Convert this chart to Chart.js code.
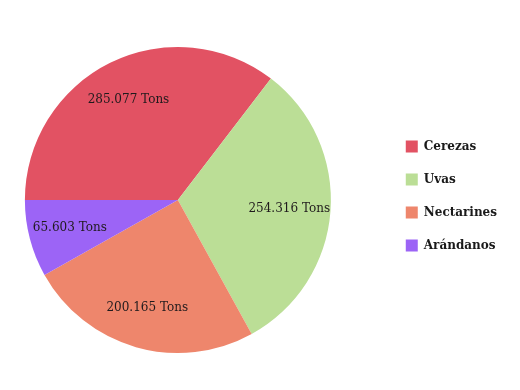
<!DOCTYPE html>
<html>
<head>
<meta charset="utf-8">
<script src="https://cdn.jsdelivr.net/npm/chart.js@4.4.1/dist/chart.umd.min.js"></script>
<style>
    html, body { margin: 0; background: #fff; overflow: hidden; }
    /* canvas starts a bit left of the window so the pie sits where the original one does */
    #wrap { width: 549px; height: 390px; position: relative; left: -29px; }
</style>
</head>
<body>
<div id="wrap"><canvas id="fruitChart"></canvas></div>
<script>
const labels = ['Cerezas', 'Uvas', 'Nectarines', 'Arándanos'];
const tons = [285.077, 254.316, 200.165, 65.603];
const colors = ['#E25263', '#BBDE96', '#EE866C', '#9C64F6'];

// draws "xxx Tons" inside every slice
const sliceLabels = {
    id: 'sliceLabels',
    afterDatasetsDraw(chart) {
        const ctx = chart.ctx;
        const meta = chart.getDatasetMeta(0);
        ctx.save();
        ctx.font = '12px "DejaVu Serif"';
        ctx.fillStyle = '#1f1a1c';
        ctx.textAlign = 'center';
        ctx.textBaseline = 'middle';
        meta.data.forEach((arc, i) => {
            const p = arc.getProps(['x', 'y', 'startAngle', 'endAngle', 'outerRadius'], true);
            const mid = (p.startAngle + p.endAngle) / 2;
            const r = p.outerRadius * 0.73;
            const text = tons[i].toFixed(3) + ' Tons';
            ctx.fillText(text, p.x + Math.cos(mid) * r, p.y + Math.sin(mid) * r);
        });
        ctx.restore();
    }
};

new Chart(document.getElementById('fruitChart'), {
    type: 'pie',
    data: {
        labels: labels,
        datasets: [{
            data: tons,
            backgroundColor: colors,
            borderWidth: 0,
            radius: 153,
            rotation: 270,
            clip: false
        }]
    },
    options: {
        responsive: true,
        maintainAspectRatio: false,
        animation: false,
        layout: {
            padding: {left: 0, right: 13, top: 119.5, bottom: 109.5}
        },
        plugins: {
            tooltip: {enabled: false},
            legend: {
                position: 'right',
                align: 'start',
                labels: {
                    boxWidth: 12,
                    boxHeight: 12,
                    padding: 21,
                    color: '#1a1a1a',
                    font: {family: '"DejaVu Serif"', size: 12, weight: 'bold'}
                }
            }
        }
    },
    plugins: [sliceLabels]
});
</script>
</body>
</html>
